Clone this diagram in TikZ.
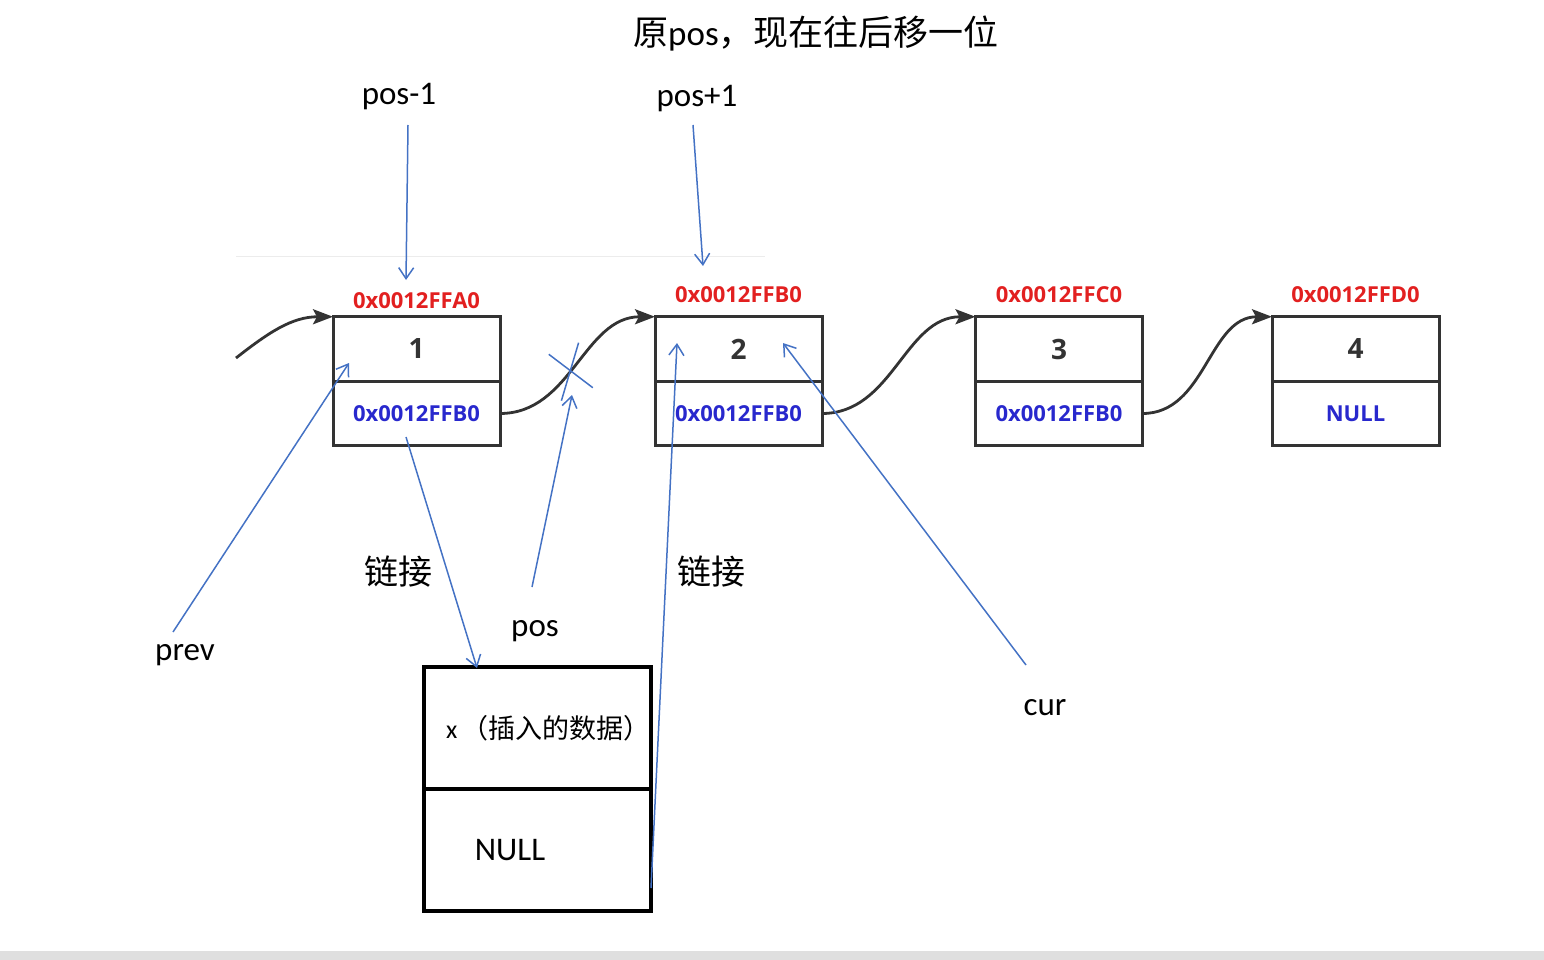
\documentclass[tikz,border=0pt]{standalone}
\usepackage{fontspec}
\setmainfont{Carlito}
\newfontfamily\cjk{Noto Sans CJK SC}
\newfontfamily\hexfont{Open Sans}
\usetikzlibrary{positioning,arrows.meta}
\definecolor{addrred}{RGB}{226,32,32}
\definecolor{ptrblue}{RGB}{40,40,205}
\definecolor{lineblue}{RGB}{68,114,196}
\definecolor{boxgray}{RGB}{51,51,51}

\begin{document}
\begin{tikzpicture}[x=1pt,y=-1pt,
   cell/.style={rectangle,draw=boxgray,line width=3pt,minimum width=167pt,minimum height=64.5pt,inner sep=0pt,outer sep=0pt},
   newcell/.style={rectangle,draw=black,line width=3.5pt,minimum width=227pt,minimum height=122pt,inner sep=0pt,outer sep=0pt},
   addr/.style={font=\hexfont\bfseries\fontsize{22}{26}\selectfont},
   link/.style={draw=boxgray,line width=2.8pt,-{Stealth[length=20pt,width=15pt,inset=4pt]}},
   ptr/.style={draw=lineblue,line width=1.5pt,-{Straight Barb[length=11pt,width=15pt]}},
   note/.style={font=\fontsize{33}{40}\selectfont},
   cnote/.style={font=\cjk\fontsize{34}{40}\selectfont}]
   \useasboundingbox (0,0) rectangle (1544,960);
   \fill[gray!25] (0,951) rectangle (1544,960);
   \draw[gray!15,line width=1pt] (236,256) -- (765,256);
   % list nodes: index/x/value/address/next/address y
   \foreach \i/\x/\v/\a/\n/\ay in {{1/416.5/1/0x0012FFA0/0x0012FFB0/301},{2/738.5/2/0x0012FFB0/0x0012FFB0/295},{3/1059/3/0x0012FFC0/0x0012FFB0/295},{4/1355.5/4/0x0012FFD0/NULL/295}}{
      \node[cell,font=\hexfont\bfseries\fontsize{28}{30}\selectfont,text=boxgray] (v\i) at (\x,349) {\v};
      \node[cell,below=0pt of v\i,addr,text=ptrblue] (p\i) {\n};
      \node[addr,text=addrred] (a\i) at (\x,\ay) {\a};
   }
   % new node
   \node[newcell,font=\fontsize{26}{30}\selectfont] (xv) at (537.5,728) {\kern22pt x\,{\cjk\fontsize{27}{30}\selectfont （插入的数据）}};
   \node[newcell,below=0pt of xv,font=\fontsize{33}{40}\selectfont] (xn) {NULL\kern55pt};
   % links
   \coordinate (head) at (236,358);
   \draw[link] (head) to[out=38,in=180] (v1.north west);
   \foreach \from/\to in {p1/v2,p2/v3,p3/v4}
      \draw[link] (\from.east) to[out=0,in=180] (\to.north west);
   \draw[lineblue,line width=1.5pt] (548.8,354.3) -- (592.8,387.7);
   \draw[lineblue,line width=1.5pt] (578.6,342.7) -- (561.4,400.7);
   % labels
   \node[font=\fontsize{35}{42}\selectfont] (title) at (816,33) {{\cjk 原}pos{\cjk ，现在往后移一位}};
   \node[note] (lposm) at (399,97) {pos-1};
   \node[note] (lposp) at (697,99) {pos+1};
   \node[note] (lprev) at (185,655) {prev};
   \node[note] (lpos) at (535,631) {pos};
   \node[note] (lcur) at (1045,708) {cur};
   \node[cnote] (llink1) at (398,572) {链接};
   \node[cnote] (llink2) at (711,572) {链接};
   % pointer arrows
   \coordinate (posmS) at (408,125);  \coordinate (posmT) at (406,280);
   \coordinate (pospS) at (693,125);  \coordinate (pospT) at (703,266);
   \coordinate (prevS) at (173,632);  \coordinate (prevT) at (349,363);
   \coordinate (nextS) at (406,437);  \coordinate (nextT) at (477,668);
   \coordinate (posS) at (532,587);   \coordinate (posT) at (572,395);
   \coordinate (newS) at (651,888);   \coordinate (newT) at (677,343);
   \coordinate (curS) at (1026,665);  \coordinate (curT) at (783,343);
   \foreach \s in {posm,posp,prev,next,pos,new,cur}
      \draw[ptr] (\s S) -- (\s T);
\end{tikzpicture}
\end{document}
